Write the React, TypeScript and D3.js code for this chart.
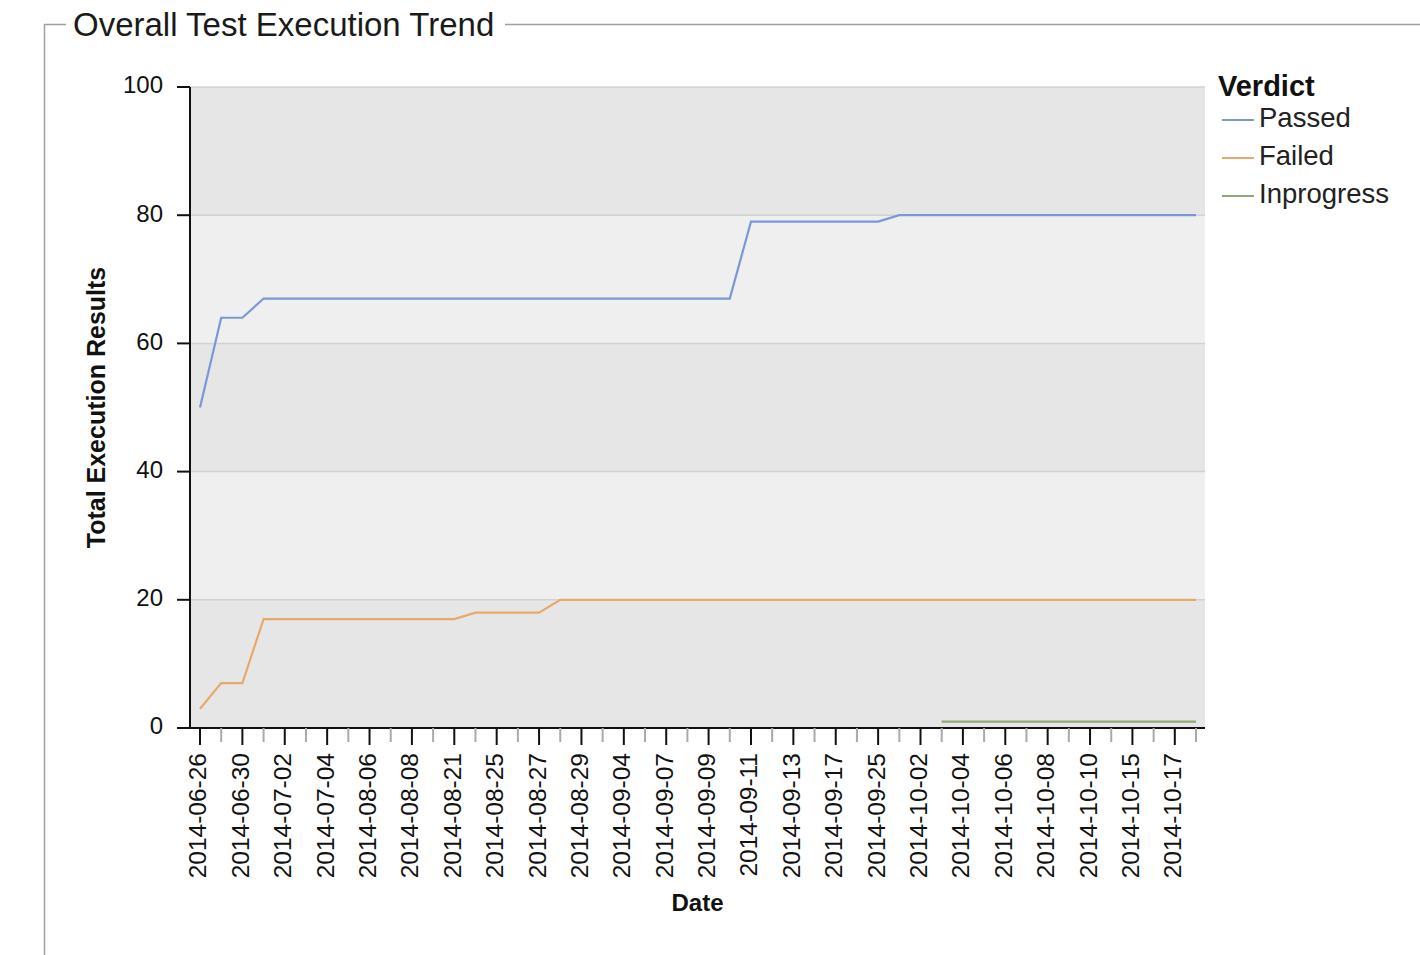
import React from "react";
import * as d3 from "d3";

const dates = [
  "2014-06-26", "2014-06-27", "2014-06-30", "2014-07-01", "2014-07-02", "2014-07-03",
  "2014-07-04", "2014-08-05", "2014-08-06", "2014-08-07", "2014-08-08", "2014-08-20",
  "2014-08-21", "2014-08-22", "2014-08-25", "2014-08-26", "2014-08-27", "2014-08-28",
  "2014-08-29", "2014-09-03", "2014-09-04", "2014-09-05", "2014-09-07", "2014-09-08",
  "2014-09-09", "2014-09-10", "2014-09-11", "2014-09-12", "2014-09-13", "2014-09-16",
  "2014-09-17", "2014-09-24", "2014-09-25", "2014-10-01", "2014-10-02", "2014-10-03",
  "2014-10-04", "2014-10-05", "2014-10-06", "2014-10-07", "2014-10-08", "2014-10-09",
  "2014-10-10", "2014-10-14", "2014-10-15", "2014-10-16", "2014-10-17", "2014-10-20",
];

const passed = [
  50, 64, 64, 67, 67, 67, 67, 67, 67, 67, 67, 67,
  67, 67, 67, 67, 67, 67, 67, 67, 67, 67, 67, 67,
  67, 67, 79, 79, 79, 79, 79, 79, 79, 80, 80, 80,
  80, 80, 80, 80, 80, 80, 80, 80, 80, 80, 80, 80,
];

const failed = [
  3, 7, 7, 17, 17, 17, 17, 17, 17, 17, 17, 17,
  17, 18, 18, 18, 18, 20, 20, 20, 20, 20, 20, 20,
  20, 20, 20, 20, 20, 20, 20, 20, 20, 20, 20, 20,
  20, 20, 20, 20, 20, 20, 20, 20, 20, 20, 20, 20,
];

const inprogress: (number | null)[] = [
  null, null, null, null, null, null, null, null, null, null, null, null,
  null, null, null, null, null, null, null, null, null, null, null, null,
  null, null, null, null, null, null, null, null, null, null, null, 1,
  1, 1, 1, 1, 1, 1, 1, 1, 1, 1, 1, 1,
];

const yTicks = [0, 20, 40, 60, 80, 100];

const series = [
  { name: "Passed", values: passed as (number | null)[], color: "#7b98d6" },
  { name: "Failed", values: failed as (number | null)[], color: "#e8a96c" },
  { name: "Inprogress", values: inprogress, color: "#8fa876" },
];

const FONT = "'Liberation Sans', Arial, sans-serif";

export default function App() {
  const W = 1420;
  const H = 955;
  const left = 190;
  const right = 1205;
  const top = 87;
  const bottom = 728;

  const x = d3
    .scalePoint<string>()
    .domain(dates)
    .range([200, 1196]);
  const y = d3.scaleLinear().domain([0, 100]).range([bottom, top]);

  const line = d3
    .line<number | null>()
    .defined((d) => d !== null)
    .x((_, i) => x(dates[i]) as number)
    .y((d) => y(d as number));

  const bands = [];
  for (let i = 0; i < yTicks.length - 1; i++) {
    bands.push({ y0: yTicks[i], y1: yTicks[i + 1], dark: i % 2 === 0 });
  }

  return (
    <svg
      width={W}
      height={H}
      style={{ position: "absolute", left: 0, top: 0, display: "block" }}
      fontFamily={FONT}
    >
      <rect x={0} y={0} width={W} height={H} fill="#ffffff" />
      {/* fieldset frame */}
      <path d={`M44.5,955 L44.5,24.5 L66,24.5`} fill="none" stroke="#a0a0a0" strokeWidth={1.5} />
      <path d={`M505,24.5 L1420,24.5`} fill="none" stroke="#a0a0a0" strokeWidth={1.5} />
      <text x={73} y={36} fontSize={33} fill="#1a1a1a">
        Overall Test Execution Trend
      </text>

      {/* plot background bands */}
      {bands.map((b, i) => (
        <rect
          key={i}
          x={left}
          y={y(b.y1)}
          width={right - left}
          height={y(b.y0) - y(b.y1)}
          fill={b.dark ? "#e6e6e6" : "#efefef"}
        />
      ))}
      {/* gridlines */}
      {yTicks.map((t) => (
        <line
          key={t}
          x1={left}
          x2={right}
          y1={y(t)}
          y2={y(t)}
          stroke="#d2d2d2"
          strokeWidth={1.5}
        />
      ))}

      {/* series lines */}
      {series.map((s) => (
        <path
          key={s.name}
          d={line(s.values) || ""}
          fill="none"
          stroke={s.color}
          strokeWidth={2.2}
        />
      ))}

      {/* y axis */}
      <line x1={left} x2={left} y1={top} y2={bottom} stroke="#111" strokeWidth={2} />
      {yTicks.map((t) => (
        <g key={t}>
          <line x1={177} x2={left} y1={y(t)} y2={y(t)} stroke="#111" strokeWidth={2} />
          <text
            x={163}
            y={y(t)}
            fontSize={24}
            textAnchor="end"
            dominantBaseline="middle"
            fill="#111"
          >
            {t}
          </text>
        </g>
      ))}
      <text
        transform={`translate(105,${(top + bottom) / 2}) rotate(-90)`}
        fontSize={25}
        fontWeight="bold"
        textAnchor="middle"
        fill="#111"
      >
        Total Execution Results
      </text>

      {/* x axis */}
      <line x1={180} x2={right} y1={bottom} y2={bottom} stroke="#111" strokeWidth={2} />
      {dates.map((d, i) => {
        const xx = x(d) as number;
        const major = i % 2 === 0;
        return (
          <g key={d}>
            <line
              x1={xx}
              x2={xx}
              y1={bottom}
              y2={major ? bottom + 17 : bottom + 14}
              stroke={major ? "#111" : "#aaa"}
              strokeWidth={2}
            />
            {major && (
              <text
                transform={`translate(${xx},753) rotate(-90)`}
                fontSize={24.5}
                textAnchor="end"
                dominantBaseline="middle"
                fill="#111"
              >
                {d}
              </text>
            )}
          </g>
        );
      })}
      <text
        x={(left + right) / 2}
        y={911}
        fontSize={24}
        fontWeight="bold"
        textAnchor="middle"
        fill="#111"
      >
        Date
      </text>

      {/* legend */}
      <text x={1218} y={96} fontSize={29} fontWeight="bold" fill="#111">
        Verdict
      </text>
      {series.map((s, i) => {
        const cy = 120 + i * 38;
        return (
          <g key={s.name}>
            <line x1={1222} x2={1254} y1={cy} y2={cy} stroke={s.color} strokeWidth={2} />
            <text x={1259} y={cy} fontSize={27.5} dominantBaseline="middle" fill="#222">
              {s.name}
            </text>
          </g>
        );
      })}
    </svg>
  );
}
